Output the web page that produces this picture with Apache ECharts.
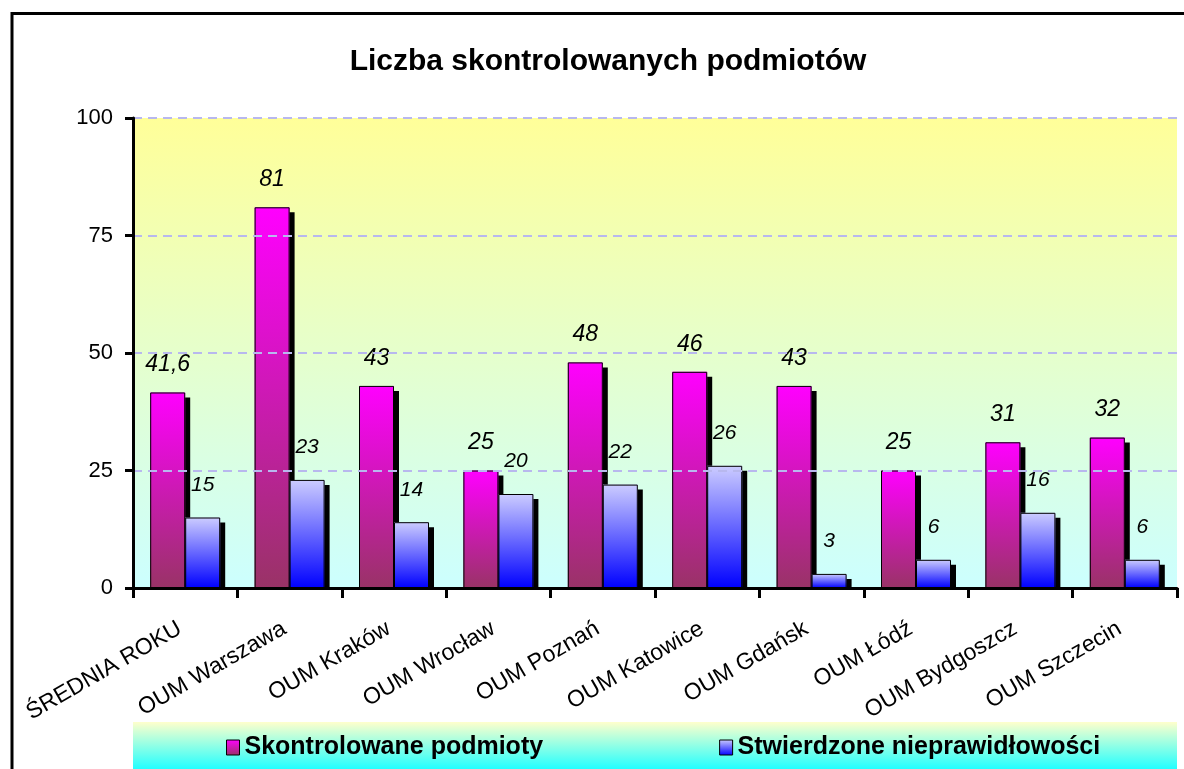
<!DOCTYPE html>
<html>
<head>
<meta charset="utf-8">
<script src="https://cdn.jsdelivr.net/npm/echarts@6/dist/echarts.min.js"></script>
<style>html,body{margin:0;padding:0;background:#fff}#c{width:1184px;height:769px}</style>
</head>
<body>
<div id="c"></div>
<script>
const categories = ["ŚREDNIA ROKU", "OUM Warszawa", "OUM Kraków", "OUM Wrocław", "OUM Poznań", "OUM Katowice", "OUM Gdańsk", "OUM Łódź", "OUM Bydgoszcz", "OUM Szczecin"];
const skontrolowane = [41.6, 81, 43, 25, 48, 46, 43, 25, 31, 32];
const stwierdzone = [15, 23, 14, 20, 22, 26, 3, 6, 16, 6];
const yTicks = { min: 0, max: 100, interval: 25 };
const seriesNames = ["Skontrolowane podmioty", "Stwierdzone nieprawidłowości"];

const chart = echarts.init(document.getElementById('c'), null, { renderer: 'canvas' });
const fmt = p => String(p.value).replace('.', ',');
const magenta = new echarts.graphic.LinearGradient(0, 0, 0, 1, [{ offset: 0, color: '#ff00ff' }, { offset: 1, color: '#993366' }]);
const blue = new echarts.graphic.LinearGradient(0, 0, 0, 1, [{ offset: 0, color: '#ccccff' }, { offset: 1, color: '#0000ff' }]);
const FONT = '"Liberation Sans", Arial, sans-serif';

const shadowStyle = { shadowColor: '#000', shadowBlur: 0, shadowOffsetX: 5, shadowOffsetY: 5, borderWidth: 0 };
const outline = { color: 'rgba(0,0,0,0)', borderColor: '#000', borderWidth: 1 };

chart.setOption({
  animation: false,
  backgroundColor: '#ffffff',
  title: {
    text: 'Liczba skontrolowanych podmiotów',
    left: 603, top: 42, textAlign: 'center',
    textStyle: { fontFamily: FONT, fontSize: 30, fontWeight: 'bold', color: '#000' }
  },
  graphic: [
    { type: 'rect', z: 0, shape: { x: 12, y: 13.5, width: 1200, height: 800 }, style: { fill: 'none', stroke: '#000', lineWidth: 3 } },
    { type: 'rect', z: 1, shape: { x: 133, y: 722, width: 1044, height: 47 },
      style: { fill: new echarts.graphic.LinearGradient(0, 0, 0, 1, [{ offset: 0, color: '#ffffcc' }, { offset: 1, color: '#22ffff' }]) } },
    { type: 'rect', z: 5, shape: { x: 135, y: 589.5, width: 1049, height: 6 }, style: { fill: '#ffffff' } }
  ],
  legend: {
    left: 221, top: 730, itemGap: 176, itemWidth: 13, itemHeight: 15, icon: 'rect',
    data: seriesNames,
    textStyle: { fontFamily: FONT, fontSize: 25, fontWeight: 'bold', color: '#000' },
    itemStyle: { borderColor: '#000', borderWidth: 1, shadowBlur: 0, shadowOffsetX: 0, shadowOffsetY: 0, shadowColor: 'rgba(0,0,0,0)' }
  },
  grid: {
    left: 133, right: 7, top: 118, bottom: 181, show: true, borderWidth: 0,
    backgroundColor: new echarts.graphic.LinearGradient(0, 0, 0, 1, [{ offset: 0, color: '#ffff99' }, { offset: 1, color: '#ccffff' }])
  },
  xAxis: [{
    type: 'category', data: categories, z: 10,
    axisLine: { lineStyle: { color: '#000', width: 3 } },
    axisTick: { show: true, length: 10, lineStyle: { color: '#000', width: 3 } },
    axisLabel: { rotate: 30, margin: 36, interval: 0, padding: [0, 6, 0, 0], fontFamily: FONT, fontSize: 23, color: '#000' }
  }, {
    type: 'category', data: categories, show: false
  }],
  yAxis: {
    type: 'value', min: yTicks.min, max: yTicks.max, interval: yTicks.interval, z: 10,
    axisLine: { show: true, lineStyle: { color: '#000', width: 3 } },
    axisTick: { show: true, length: 8, lineStyle: { color: '#000', width: 3 } },
    axisLabel: { margin: 20, fontFamily: FONT, fontSize: 22, color: '#000' },
    splitLine: { show: true, lineStyle: { color: '#b8b8ee', width: 2, type: [9, 6] } }
  },
  series: [
    {
      name: seriesNames[0], type: 'bar', data: skontrolowane, barWidth: 35, barGap: '0%',
      itemStyle: Object.assign({ color: magenta }, shadowStyle),
      label: { show: true, position: 'top', distance: 16, formatter: fmt, fontFamily: FONT, fontSize: 23, fontStyle: 'italic', color: '#000' }
    },
    {
      name: seriesNames[1], type: 'bar', data: stwierdzone, barWidth: 35, barGap: '0%',
      itemStyle: Object.assign({ color: blue }, shadowStyle),
      label: { show: true, position: 'top', distance: 22, formatter: fmt, fontFamily: FONT, fontSize: 21, fontStyle: 'italic', color: '#000' }
    },
    {
      name: 'outline-a', type: 'bar', xAxisIndex: 1, data: skontrolowane, barWidth: 35, barGap: '0%', silent: true, z: 3,
      itemStyle: outline
    },
    {
      name: 'outline-b', type: 'bar', xAxisIndex: 1, data: stwierdzone, barWidth: 35, barGap: '0%', silent: true, z: 3,
      itemStyle: outline
    }
  ]
});
</script>
</body>
</html>
